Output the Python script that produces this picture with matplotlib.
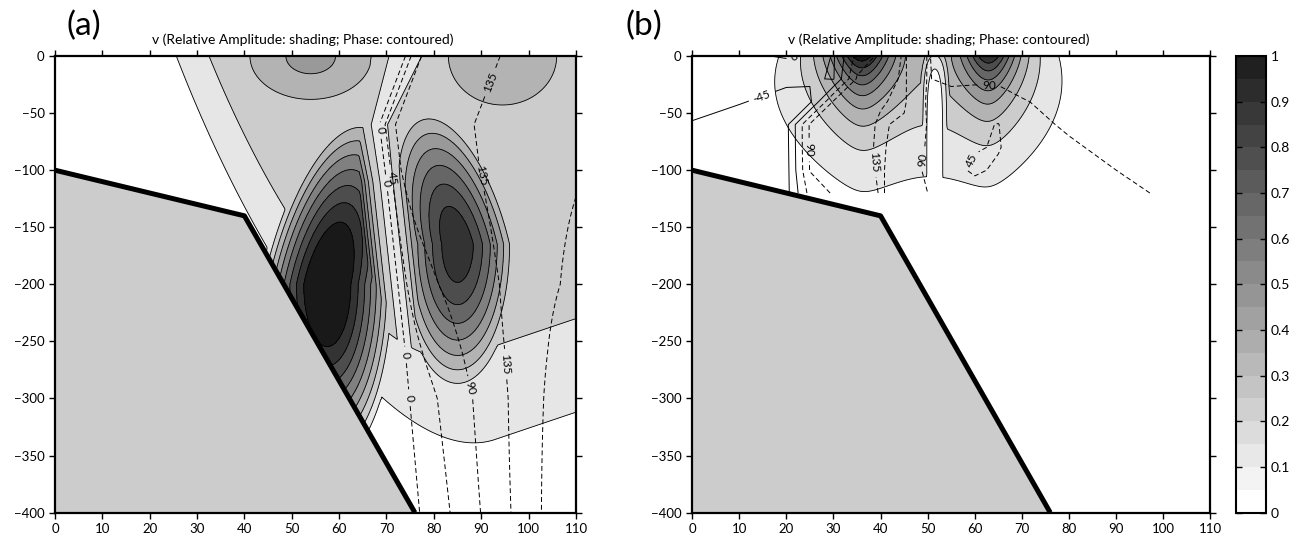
import numpy as np
import matplotlib.pyplot as plt
from matplotlib.colors import ListedColormap, BoundaryNorm, Normalize
from matplotlib.cm import ScalarMappable

plt.rcParams['font.family'] = ['Lato', 'DejaVu Sans']

# axes / levels
x_ticks = list(range(0, 111, 10))
y_ticks = list(range(0, -401, -50))
amp_levels = [0, 0.1, 0.2, 0.3, 0.4, 0.5, 0.6, 0.7, 0.8, 0.9, 1.0]
cbar_labels = ["0", "0.1", "0.2", "0.3", "0.4", "0.5", "0.6", "0.7", "0.8", "0.9", "1"]

# shelf / slope outline (km, m)
slope_x = [0, 40, 76]
slope_y = [-100, -140, -400]

# panel (a): amplitude lobes  (x, z, half-width, half-height, peak, tilt, power)
a_lobe_x = [57.5, 85, 54, 94.5]
a_lobe_z = [-200, -165, 0, 0]
a_lobe_w = [15.5, 14.4, 24, 28]
a_lobe_h = [170, 144, 71, 105]
a_lobe_peak = [1.1, 0.9, 0.42, 0.36]
a_lobe_tilt = [0.05, -0.055, 0, 0]
a_lobe_pow = [1.5, 1.5, 2, 2]
# panel (a): background level and edges
a_bg_level = 0.27
a_bg_left, a_bg_left_w, a_bg_left_shift = 66, 19, 0.08
a_bg_bot, a_bg_bot_w, a_bg_bot_slant = 188, 233, 1.4
# panel (a): nodal line between lobes
a_node_z = [0, -60, -110, -260, -400]
a_node_x = [74, 68.5, 70, 74, 77]
a_node_w = [20, 10, 8, 8, 8]
# panel (a): phase (jump across node + gradient)
a_phase_z = [0, -100, -200, -300, -400]
a_phase_jump = [95, 95, 60, 10, 0]
a_phase_grad = [2.0, 2.0, 3.5, 6.0, 7.0]
a_phase_levels = [0, 45, 90, 135, 180]
a_label_pos = [(67, -66), (71, -107), (68, -112), (90, -105), (92, -23),
               (73, -300), (73.5, -262), (85, -293), (95, -270)]

# panel (b): surface-trapped lobes
b_lobe_x = [36, 63]
b_lobe_peak = [0.97, 0.88]
b_lobe_width = [6.5, 5.5]
b_lobe_decay = [49, 47]
b_lobe_widen = 70
b_node_x = 51.5
b_node_w = 6
# panel (b): phase read on a coarse grid
b_phase_x = [0, 10, 20, 25, 30, 35, 40, 45, 50, 55, 60, 65, 70, 80, 90, 100, 110]
b_phase_z = [0, -20, -40, -60, -80, -100, -120]
b_phase = [
    [-30, -10, 5, -5, -50, 60, 100, 140, 88, 105, 105, 105, 105, 110, 115, 120, 125],
    [-38, -40, -42, -40, -48, 95, 120, 140, 88, 100, 100, 100, 100, 105, 110, 115, 120],
    [-35, -44, -50, -55, 95, 115, 133, 140, 85, 70, 62, 65, 88, 100, 105, 110, 115],
    [-47, -52, -58, 95, 110, 125, 138, 130, 88, 65, 50, 44, 78, 95, 100, 105, 110],
    [-55, -58, -60, 95, 110, 128, 138, 125, 85, 62, 47, 43, 60, 85, 100, 105, 110],
    [-58, -60, -62, 92, 108, 125, 138, 120, 80, 55, 40, 50, 60, 75, 90, 100, 105],
    [-60, -62, -60, 60, 95, 118, 137, 125, 90, 70, 60, 60, 65, 75, 85, 92, 100],
]
b_phase_levels = [-45, 0, 45, 90, 135]
b_label_pos = [(15, -37), (22, -5), (25, -82), (38, -93), (49, -91), (60, -93), (63, -28)]

xg = np.linspace(0, 110, 441)
zg = np.linspace(-400, 0, 801)
X, Z = np.meshgrid(xg, zg)


def lobe(cx, cz, w, h, peak, tilt, pw):
    dx = X - cx - tilt * np.maximum(Z - cz, 0)
    r = np.hypot(dx / w, (Z - cz) / h)
    return peak * np.clip(1 - r ** pw, 0, None)


# ---- panel (a) amplitude
xe = X + a_bg_left_shift * Z
ze = Z + a_bg_bot_slant * (110 - X)
gx = np.exp(-0.5 * (np.minimum(xe - a_bg_left, 0) / a_bg_left_w) ** 2)
gz = np.exp(-0.5 * (np.minimum(ze - a_bg_bot, 0) / a_bg_bot_w) ** 2)
amp_a = np.minimum(a_bg_level, gx * gz)
for i in range(len(a_lobe_x)):
    amp_a = np.maximum(amp_a, lobe(a_lobe_x[i], a_lobe_z[i], a_lobe_w[i], a_lobe_h[i],
                                   a_lobe_peak[i], a_lobe_tilt[i], a_lobe_pow[i]))
xn = np.interp(-Z, [-v for v in a_node_z], a_node_x)
wn = np.interp(-Z, [-v for v in a_node_z], a_node_w)
amp_a = np.minimum(amp_a, 0.17 + ((X - xn) / wn) ** 2)

jump = np.interp(-Z, [-v for v in a_phase_z], a_phase_jump)
grad = np.interp(-Z, [-v for v in a_phase_z], a_phase_grad)
phase_a = jump * np.tanh((X - xn) / 2.5) + grad * (X - xn)

# ---- panel (b) amplitude
amp_b = np.zeros_like(X)
for i in range(len(b_lobe_x)):
    lam = b_lobe_width[i] * (1 - Z / b_lobe_widen)
    d = np.sqrt((X - b_lobe_x[i]) ** 2 + 9)
    amp_b += b_lobe_peak[i] * np.exp(-(d - 3) / lam + Z / b_lobe_decay[i])
cap_b = 0.02 + 0.17 * np.exp(Z / 15) + ((X - b_node_x) / b_node_w) ** 2
amp_b = np.minimum(amp_b, cap_b)

PX, PZ = np.meshgrid(b_phase_x, b_phase_z)
phase_b = np.array(b_phase, dtype=float)

# ---- drawing
fig = plt.figure(figsize=(12.96, 5.39), dpi=100)
ax_a = fig.add_axes([0.0424, 0.049, 0.402, 0.847])
ax_b = fig.add_axes([0.534, 0.049, 0.400, 0.847])
cax = fig.add_axes([0.9537, 0.049, 0.0231, 0.847])

band_cmap = ListedColormap([str(1 - v) for v in amp_levels[:-1]])
band_norm = BoundaryNorm(amp_levels, band_cmap.N)

dash = (0, (5, 3))
panels = [(ax_a, amp_a, (X, Z, phase_a), a_phase_levels, [dash] * 5, a_label_pos, "(a)", 0.051),
          (ax_b, amp_b, (PX, PZ, phase_b), b_phase_levels, ['-', '-', dash, dash, dash], b_label_pos, "(b)", 0.483)]

for ax, amp, ph, plev, pls, lpos, tag, tx in panels:
    ax.contourf(X, Z, np.clip(amp, 0, 0.999), levels=amp_levels, cmap=band_cmap, norm=band_norm)
    ax.contour(X, Z, amp, levels=amp_levels[1:-1], colors='k', linewidths=0.6)
    cs = ax.contour(*ph, levels=plev, colors='k', linewidths=0.7, linestyles=pls)
    ax.clabel(cs, fmt='%d', fontsize=8.5, inline=True, manual=lpos)
    ax.fill(slope_x + [slope_x[-1], 0], slope_y + [-400, -400], color='#cccccc', zorder=5)
    ax.plot(slope_x, slope_y, color='k', lw=3.6, zorder=6, solid_capstyle='butt')
    ax.set_xlim(0, 110)
    ax.set_ylim(-400, 0)
    ax.set_xticks(x_ticks)
    ax.set_yticks(y_ticks)
    ax.tick_params(direction='out', top=True, right=True, length=4, width=1, labelsize=9.5)
    for s in ax.spines.values():
        s.set_linewidth(1.6)
        s.set_zorder(10)
    ax.text(0.475, 1.035, "v (Relative Amplitude: shading; Phase: contoured)",
            transform=ax.transAxes, ha='center', va='center', fontsize=10)
    fig.text(tx, 0.952, tag, ha='left', va='center', fontsize=24)

cb_cmap = ListedColormap([str(1 - 0.92 * v) for v in np.arange(0, 1, 0.05)])
cb = fig.colorbar(ScalarMappable(norm=Normalize(0, 1), cmap=cb_cmap), cax=cax, ticks=amp_levels)
cb.ax.set_yticklabels(cbar_labels)
cb.ax.tick_params(direction='in', left=True, right=True, length=4, width=1, labelsize=10)
cb.outline.set_linewidth(1.5)

fig.savefig("out.png", dpi=100)
